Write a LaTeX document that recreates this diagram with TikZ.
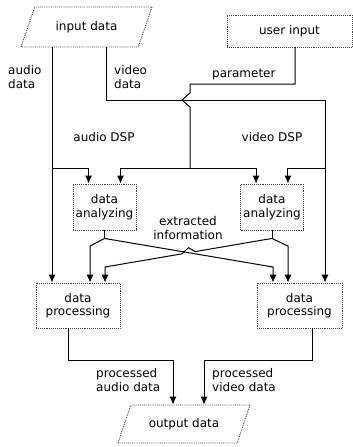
\documentclass[tikz,border=0pt]{standalone}
\usepackage{fontspec}
\setmainfont{DejaVu Sans}
\usepackage{tikz}
\usetikzlibrary{shapes.geometric,arrows.meta,positioning,calc}

\begin{document}
\begin{tikzpicture}[
  x=1pt, y=-1pt,
  font=\fontsize{12}{13.5}\selectfont,
  >={Latex[length=8pt,width=7pt]},
  dbox/.style={rectangle, draw=black!75, densely dotted, line width=0.9pt, align=center, inner sep=1pt},
  io/.style={trapezium, trapezium left angle=53, trapezium right angle=127, trapezium stretches body, draw=black!75, densely dotted, line width=0.9pt},
  lbl/.style={align=left, anchor=west, inner sep=0pt},
  flow/.style={line width=1pt}
]
\useasboundingbox (0,0) rectangle (353,447);

% sources
\node[io, minimum width=131pt, minimum height=40pt] (inp) at (86.5,27) {input data};
\node[dbox, minimum width=125pt, minimum height=32pt] (usr) at (289.5,31) {user input};

% DSP blocks
\node[dbox, minimum width=63pt, minimum height=46pt] (anaA) at (104.5,207) {data\\analyzing};
\node[dbox, minimum width=63pt, minimum height=46pt] (anaV) at (272,207) {data\\analyzing};
\node[dbox, minimum width=84pt, minimum height=45pt] (procA) at (78,305.5) {data\\processing};
\node[dbox, minimum width=85pt, minimum height=45pt] (procV) at (299.5,305.5) {data\\processing};

% sink
\node[io, trapezium left angle=55, trapezium right angle=125, minimum width=132pt, minimum height=38pt] (out) at (184,424) {output data};

% columns and rows
\coordinate (xa) at (52,0);
\coordinate (xv) at (106,0);
\coordinate (xvr) at (325,0);
\coordinate (xp) at (190,0);
\coordinate (xu) at (295,0);
\coordinate (rowp) at (0,84);
\coordinate (rowv) at (0,100);
\coordinate (rowd) at (0,168);

% audio data
\draw[flow, ->] (inp.south -| xa) -- (procA.north -| xa);
\draw[flow, ->] (rowd -| xa) -| ($(anaA.north west)!0.25!(anaA.north east)$);

% video data
\draw[flow, ->] (inp.south -| xv) |- (rowv -| xvr) -- (procV.north -| xvr);
\draw[flow, ->] (rowd -| xvr) -| ($(anaV.north west)!0.75!(anaV.north east)$);

% parameter
\draw[flow] (usr.south -| xu) |- (rowp -| xp) -- ($(rowv -| xp)+(0,-7)$) -- ($(rowv -| xp)+(-8,0)$) -- ($(rowv -| xp)+(0,7)$) -- (rowd -| xp);
\draw[flow, ->] (rowd -| xp) -| ($(anaA.north west)!0.75!(anaA.north east)$);
\draw[flow, ->] (rowd -| xp) -| ($(anaV.north west)!0.25!(anaV.north east)$);

% extracted information
\coordinate (ja) at ($(anaA.south)+(0,8)$);
\coordinate (jv) at ($(anaV.south)+(0,8)$);
\coordinate (ka) at (90,246);
\coordinate (kv) at (288,246);
\coordinate (la) at (105,267);
\coordinate (lv) at (273,267);
\draw[flow] (anaA.south) -- (ja);
\draw[flow] (anaV.south) -- (jv);
\draw[flow, ->] (ja) -- (ka) -- (procA.north -| ka);
\draw[flow, ->] (ja) -- (lv) -- (procV.north -| lv);
\draw[flow, ->] (jv) -- (kv) -- (procV.north -| kv);
\draw[flow, ->] (jv) -- ($(jv)!0.46!(la)$) -- ($(jv)!0.5!(la)+(0,-5)$) -- ($(jv)!0.54!(la)$) -- (la) -- (procA.north -| la);

% processed data
\coordinate (oa) at (68,0);
\coordinate (ov) at (312,0);
\coordinate (ia) at (173,0);
\coordinate (iv) at (204,0);
\coordinate (rowo) at (0,360);
\draw[flow, ->] (procA.south -| oa) |- (rowo -| ia) -- (out.north -| ia);
\draw[flow, ->] (procV.south -| ov) |- (rowo -| iv) -- (out.north -| iv);

% labels
\node[lbl] (lAud) at (8,77) {audio\\data};
\node[lbl] (lVid) at (114,77) {video\\data};
\node[lbl] (lPar) at (212,75) {parameter};
\node (lADSP) at (104,137) {audio DSP};
\node (lVDSP) at (272,137) {video DSP};
\node[align=center] (lExt) at (188,228) {extracted\\information};
\node[lbl] (lPA) at (96,380) {processed\\audio data};
\node[lbl] (lPV) at (212,380) {processed\\video data};

\end{tikzpicture}
\end{document}
